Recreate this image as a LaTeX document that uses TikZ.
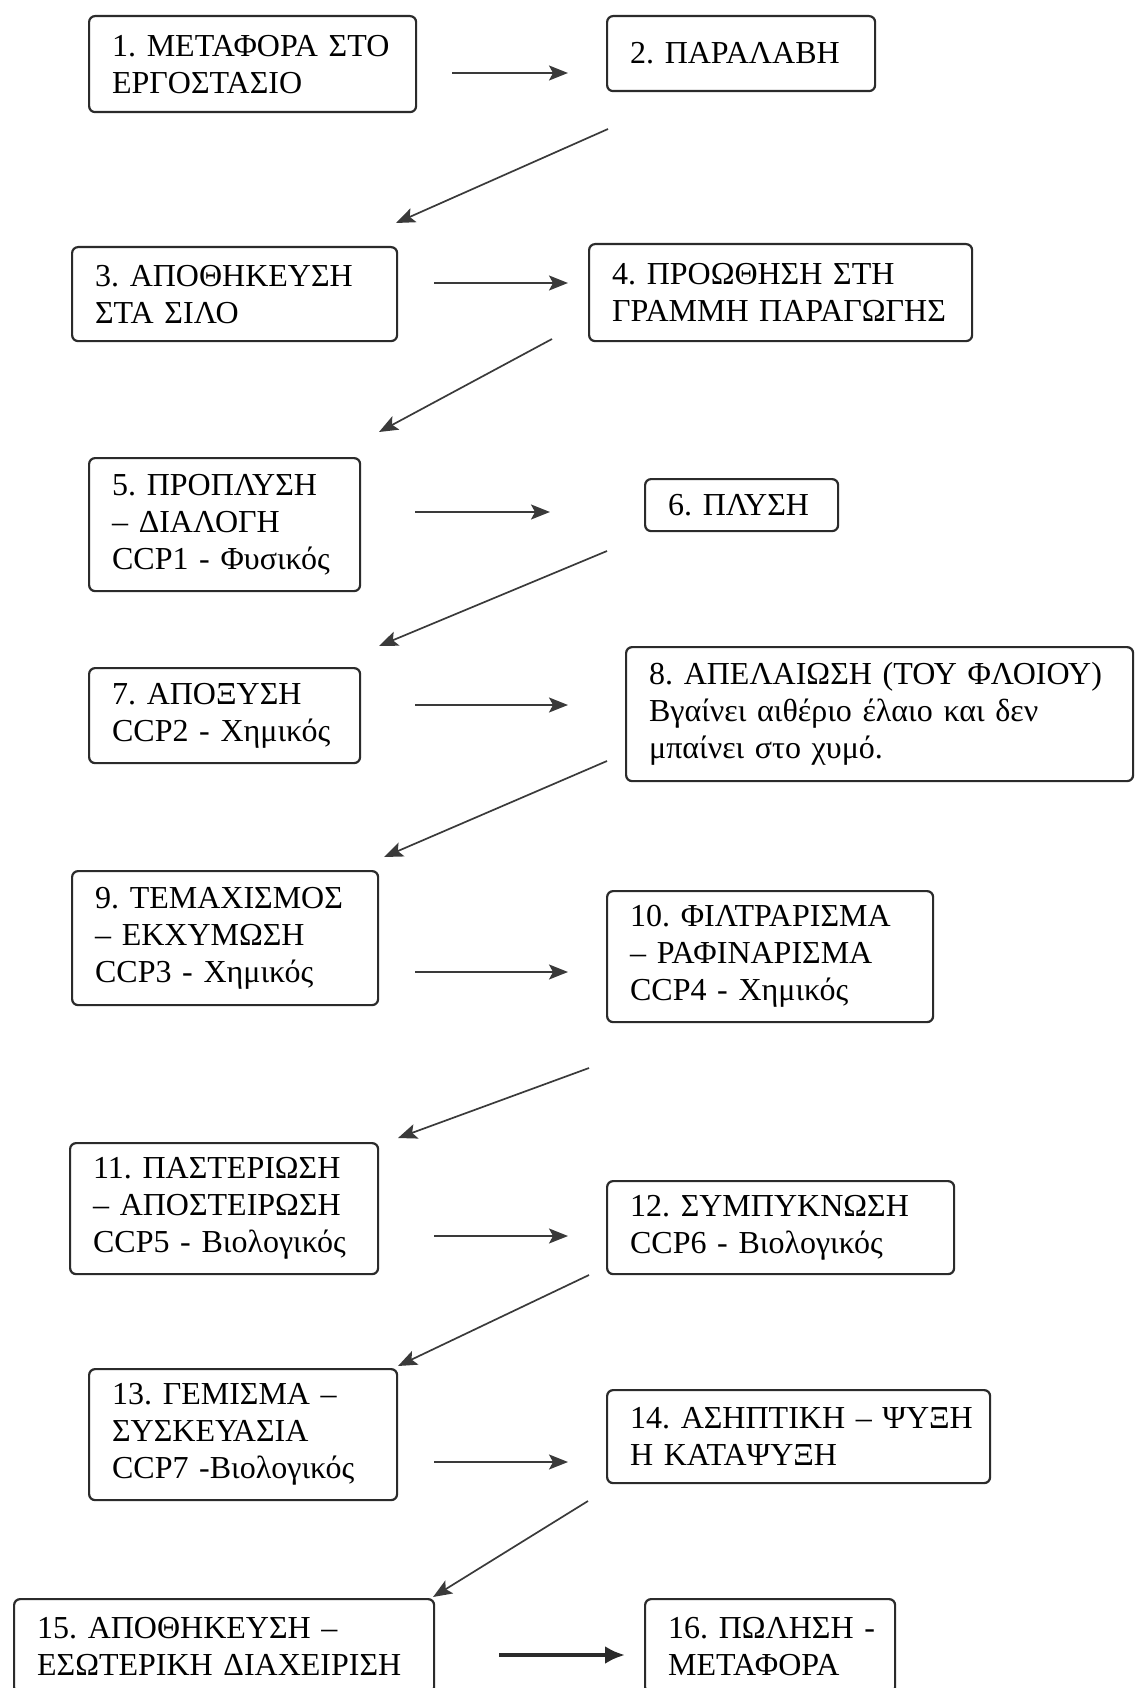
\documentclass[tikz,border=0pt]{standalone}
\usepackage{fontspec}
\setmainfont{Liberation Serif}
\usepackage{tikz}
\usetikzlibrary{arrows.meta}

\definecolor{inkgray}{HTML}{2B2B2B}
\definecolor{linegray}{HTML}{3A3A3A}

\tikzset{
    stage/.style={draw=inkgray, line width=2.2pt, rounded corners=6pt, anchor=north west,
        align=left, inner xsep=23pt, inner ysep=0pt, text=black,
        font=\fontsize{32}{37}\selectfont,
        execute at begin node={\hyphenpenalty=10000\exhyphenpenalty=10000}},
    flow/.style={draw=linegray, line width=1.7pt, -{Stealth[length=19pt,width=15pt,inset=4pt]}},
    bigflow/.style={draw=inkgray, line width=4pt, -{Latex[length=20pt,width=18pt]}}
}

\begin{document}
\begin{tikzpicture}[x=1pt,y=-1pt]
        \useasboundingbox (0,0) rectangle (1135,1688);
        \clip (0,0) rectangle (1135,1688);

        \node[stage, minimum width=327pt, minimum height=96pt, text width=281pt] (box1) at (88,15) {1.~ΜΕΤΑΦΟΡΑ~ΣΤΟ\\ΕΡΓΟΣΤΑΣΙΟ};
        \node[stage, minimum width=268pt, minimum height=75pt, text width=222pt] (box2) at (606,15) {2.~ΠΑΡΑΛΑΒΗ};
        \node[stage, minimum width=325pt, minimum height=94pt, text width=279pt] (box3) at (71,246) {3.~ΑΠΟΘΗΚΕΥΣΗ\\ΣΤΑ~ΣΙΛΟ};
        \node[stage, minimum width=383pt, minimum height=97pt, text width=337pt] (box4) at (588,243) {4.~ΠΡΟΩΘΗΣΗ~ΣΤΗ\\ΓΡΑΜΜΗ~ΠΑΡΑΓΩΓΗΣ};
        \node[stage, minimum width=271pt, minimum height=133pt, text width=225pt] (box5) at (88,457) {5.~ΠΡΟΠΛΥΣΗ\\–~ΔΙΑΛΟΓΗ\\CCP1~-~Φυσικός};
        \node[stage, minimum width=193pt, minimum height=52pt, text width=147pt] (box6) at (644,478) {6.~ΠΛΥΣΗ};
        \node[stage, minimum width=271pt, minimum height=95pt, text width=225pt] (box7) at (88,667) {7.~ΑΠΟΞΥΣΗ\\CCP2~-~Χημικός};
        \node[stage, minimum width=507pt, minimum height=134pt, text width=461pt] (box8) at (625,646) {8.~ΑΠΕΛΑΙΩΣΗ~(ΤΟΥ~ΦΛΟΙΟΥ)\\Βγαίνει~αιθέριο~έλαιο~και~δεν\\μπαίνει~στο~χυμό.};
        \node[stage, minimum width=306pt, minimum height=134pt, text width=260pt] (box9) at (71,870) {9.~ΤΕΜΑΧΙΣΜΟΣ\\–~ΕΚΧΥΜΩΣΗ\\CCP3~-~Χημικός};
        \node[stage, minimum width=326pt, minimum height=131pt, text width=280pt] (box10) at (606,890) {10.~ΦΙΛΤΡΑΡΙΣΜΑ\\–~ΡΑΦΙΝΑΡΙΣΜΑ\\CCP4~-~Χημικός};
        \node[stage, minimum width=308pt, minimum height=131pt, text width=262pt] (box11) at (69,1142) {11.~ΠΑΣΤΕΡΙΩΣΗ\\–~ΑΠΟΣΤΕΙΡΩΣΗ\\CCP5~-~Βιολογικός};
        \node[stage, minimum width=347pt, minimum height=93pt, text width=301pt] (box12) at (606,1180) {12.~ΣΥΜΠΥΚΝΩΣΗ\\CCP6~-~Βιολογικός};
        \node[stage, minimum width=308pt, minimum height=131pt, text width=262pt] (box13) at (88,1368) {13.~ΓΕΜΙΣΜΑ~–\\ΣΥΣΚΕΥΑΣΙΑ\\CCP7~-Βιολογικός};
        \node[stage, minimum width=383pt, minimum height=93pt, text width=337pt] (box14) at (606,1389) {14.~ΑΣΗΠΤΙΚΗ~–~ΨΥΞΗ\\Η~ΚΑΤΑΨΥΞΗ};
        \node[stage, minimum width=420pt, minimum height=94pt, text width=374pt] (box15) at (13,1598) {15.~ΑΠΟΘΗΚΕΥΣΗ~–\\ΕΣΩΤΕΡΙΚΗ~ΔΙΑΧΕΙΡΙΣΗ};
        \node[stage, minimum width=250pt, minimum height=94pt, text width=204pt] (box16) at (644,1598) {16.~ΠΩΛΗΣΗ~-\\ΜΕΤΑΦΟΡΑ};

        % arrow ends (the arrows stop short of the boxes)
        \coordinate (a1) at (452,73);   \coordinate (b1) at (568,73);
        \coordinate (a2) at (608,129);  \coordinate (b2) at (396,223);
        \coordinate (a3) at (434,283);  \coordinate (b3) at (568,283);
        \coordinate (a4) at (552,339);  \coordinate (b4) at (379,432);
        \coordinate (a5) at (415,512);  \coordinate (b5) at (550,512);
        \coordinate (a6) at (607,551);  \coordinate (b6) at (379,646);
        \coordinate (a7) at (415,705);  \coordinate (b7) at (568,705);
        \coordinate (a8) at (607,761);  \coordinate (b8) at (384,857);
        \coordinate (a9) at (415,972);  \coordinate (b9) at (568,972);
        \coordinate (a10) at (589,1068); \coordinate (b10) at (398,1138);
        \coordinate (a11) at (434,1236); \coordinate (b11) at (568,1236);
        \coordinate (a12) at (589,1275); \coordinate (b12) at (398,1366);
        \coordinate (a13) at (434,1462); \coordinate (b13) at (568,1462);
        \coordinate (a14) at (588,1501); \coordinate (b14) at (433,1597);
        \coordinate (a15) at (499,1655); \coordinate (b15) at (625,1655);

        \draw[flow] (a1) -- (b1);
        \draw[flow] (a2) -- (b2);
        \draw[flow] (a3) -- (b3);
        \draw[flow] (a4) -- (b4);
        \draw[flow] (a5) -- (b5);
        \draw[flow] (a6) -- (b6);
        \draw[flow] (a7) -- (b7);
        \draw[flow] (a8) -- (b8);
        \draw[flow] (a9) -- (b9);
        \draw[flow] (a10) -- (b10);
        \draw[flow] (a11) -- (b11);
        \draw[flow] (a12) -- (b12);
        \draw[flow] (a13) -- (b13);
        \draw[flow] (a14) -- (b14);
        \draw[bigflow] (a15) -- (b15);
    \end{tikzpicture}
\end{document}
